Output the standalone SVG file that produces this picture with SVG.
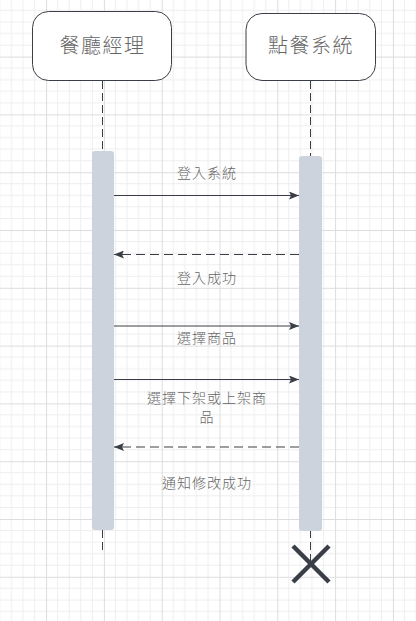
<svg xmlns="http://www.w3.org/2000/svg" width="416" height="621" viewBox="0 0 416 621">
<defs>
<pattern id="grid" patternUnits="userSpaceOnUse" x="46.1" y="56.6" width="57.8" height="57.8">
<path d="M11.56 0V57.8M23.12 0V57.8M34.68 0V57.8M46.24 0V57.8M0 11.56H57.8M0 23.12H57.8M0 34.68H57.8M0 46.24H57.8" stroke="#eeeeee" stroke-width="1" fill="none"/>
<path d="M0.5 0V57.8M0 0.5H57.8" stroke="#dddddd" stroke-width="1" fill="none"/>
</pattern>
<marker id="ah" viewBox="0 0 10 8" refX="10" refY="4" markerWidth="10" markerHeight="8" markerUnits="userSpaceOnUse" orient="auto">
<path d="M0 0L10 4L0 8L2 4Z" fill="#3a3f47"/>
</marker>
<style>
.actor{fill:#ffffff;stroke:#3a3f47;stroke-width:1}
.atext{font-family:"Noto Sans CJK TC","Noto Sans CJK SC",sans-serif;font-size:20px;font-weight:300;fill:#666666;text-anchor:middle;letter-spacing:1.5px}
.life{stroke:#3a3f47;stroke-width:1;stroke-dasharray:8 4;fill:none}
.bar{fill:#cdd3dc}
.msg{stroke:#3a3f47;stroke-width:1;fill:none;marker-end:url(#ah)}
.dash{stroke-dasharray:9 5}
.label{font-family:"Noto Sans CJK TC","Noto Sans CJK SC",sans-serif;font-size:14px;font-weight:300;fill:#666666;text-anchor:middle;letter-spacing:1px}
</style>
</defs>
<rect width="416" height="621" fill="#ffffff"/>
<rect width="416" height="621" fill="url(#grid)"/>
<g id="lifelines">
<line class="life" x1="102.5" y1="81" x2="102.5" y2="151"/>
<line class="life" x1="310.5" y1="81" x2="310.5" y2="156"/>
<line class="life" x1="102.5" y1="530" x2="102.5" y2="551"/>
<line class="life" x1="310.5" y1="530" x2="310.5" y2="564"/>
</g>
<g id="manager">
<rect class="actor" x="32.5" y="11.5" width="139" height="69" rx="16"/>
<text class="atext" x="102.5" y="53">餐廳經理</text>
</g>
<g id="system">
<rect class="actor" x="246" y="13.5" width="129.5" height="67" rx="16"/>
<text class="atext" x="311" y="53">點餐系統</text>
</g>
<g id="bar-manager"><rect class="bar" x="92" y="151" width="22" height="379" rx="3"/></g>
<g id="bar-system"><rect class="bar" x="299" y="156" width="23" height="375" rx="3"/></g>
<g id="destroy">
<path d="M293 546L329 582M329 546L293 582" stroke="#3a3f47" stroke-width="4.5" fill="none"/>
</g>
<g id="connectors">
<line class="msg" x1="114" y1="195.5" x2="299" y2="195.5"/>
<line class="msg dash" x1="299" y1="254.5" x2="114" y2="254.5"/>
<line class="msg" x1="114" y1="326" x2="299" y2="326"/>
<line class="msg" x1="114" y1="379.5" x2="299" y2="379.5"/>
<line class="msg dash" x1="299" y1="447" x2="114" y2="447"/>
</g>
<g id="labels">
<text class="label" x="207" y="178">登入系統</text>
<text class="label" x="207" y="283">登入成功</text>
<text class="label" x="207" y="343">選擇商品</text>
<text class="label" x="207" y="403">選擇下架或上架商</text>
<text class="label" x="207" y="422">品</text>
<text class="label" x="207" y="488">通知修改成功</text>
</g>
</svg>
